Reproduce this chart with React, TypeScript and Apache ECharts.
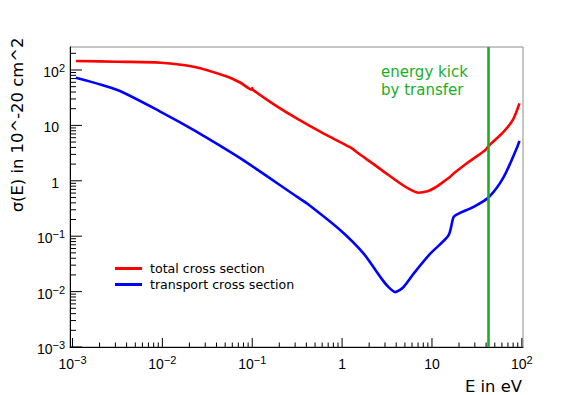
import React, { useEffect, useRef } from 'react';
import * as echarts from 'echarts';

// ---- data ----
const totalEnergy = [0.00109, 0.00316, 0.00957, 0.0223, 0.0532, 0.0741, 0.099, 0.1, 0.101, 0.174, 0.316, 0.625, 1.236, 1.596, 2.24, 2.88, 4.45, 5.62, 7.08, 8.91, 10.4, 12.6, 15.96, 17.4, 25.1, 39.1, 42.5, 62.5, 79.4, 94.0];
const totalSigma = [145.6, 141, 135.5, 114.8, 75.7, 58.9, 44.5, 47.0, 44.2, 24.0, 13.2, 7.1, 4.0, 2.95, 2.0, 1.48, 0.893, 0.708, 0.61, 0.646, 0.726, 0.891, 1.178, 1.355, 2.14, 3.57, 4.23, 7.66, 12.6, 25.0];

const transportEnergy = [0.00109, 0.00316, 0.00957, 0.0224, 0.0741, 0.316, 0.408, 0.957, 1.738, 2.667, 3.16, 3.91, 4.83, 6.25, 9.57, 15.3, 17.4, 19.8, 29.0, 42.6, 62.5, 87.9, 94.0];
const transportSigma = [72.6, 43.5, 17.6, 8.22, 2.53, 0.512, 0.389, 0.128, 0.0484, 0.01828, 0.0129, 0.0098, 0.0121, 0.0211, 0.0484, 0.1038, 0.222, 0.256, 0.338, 0.499, 1.15, 3.9, 5.26];

const kickEnergy = 42.5;

const seriesNames = ['total cross section', 'transport cross section'];
const annotationText = 'energy kick\nby transfer';
const xTitle = 'E in eV';
const yTitle = 'σ(E) in 10^-20 cm^2';

const xTickDecades = [0.001, 0.01, 0.1, 1, 10, 100];
const xTickLabels = ['10^{-3}', '10^{-2}', '10^{-1}', '1', '10', '10^{2}'];
const yTickDecades = [0.001, 0.01, 0.1, 1, 10, 100];
const yTickLabels = ['10^{-3}', '10^{-2}', '10^{-1}', '1', '10', '10^{2}'];
const minorSteps = [2, 3, 4, 5, 6, 7, 8, 9];

const X_MIN = 0.000938;
const X_MAX = 103;
const Y_MIN = 0.001;
const Y_MAX = 260;

const RED = '#ff0000';
const BLUE = '#0000ff';
const GREEN = '#1aae26';

const BASE_SIZE = 14;
const SUP_SIZE = 11;
const LABEL_FONT = 'Liberation Sans';

function splitLabel(label: string): [string, string] {
  const m = label.match(/^(.*)\^\{(.*)\}$/);
  if (!m) return [label, ''];
  return [m[1], m[2].replace('-', '\u2212')];
}

function textWidth(s: string, size: number): number {
  let w = 0;
  for (const ch of s) w += ch === '\u2212' ? 0.584 : 0.556;
  return w * size;
}

function labelGroup(label: string, anchorX: number, yc: number, mode: 'center' | 'right') {
  const [base, exp] = splitLabel(label);
  const bw = textWidth(base, BASE_SIZE);
  const sw = exp ? textWidth(exp, SUP_SIZE) : 0;
  const left = mode === 'center' ? anchorX - (bw + sw) / 2 : anchorX - bw - sw;
  const children: any[] = [
    {
      type: 'text', x: left, y: yc,
      style: { text: base, fontFamily: LABEL_FONT, fontSize: BASE_SIZE, fill: '#000', align: 'left', verticalAlign: 'middle' },
    },
  ];
  if (exp) {
    children.push({
      type: 'text', x: left + bw, y: yc - 4,
      style: { text: exp, fontFamily: LABEL_FONT, fontSize: SUP_SIZE, fill: '#000', align: 'left', verticalAlign: 'middle' },
    });
  }
  return { type: 'group', children };
}

function buildTicks(decades: number[], lo: number, hi: number) {
  const out: number[][] = [];
  decades.forEach((d) => {
    if (d >= lo && d <= hi) out.push([d, 1]);
    minorSteps.forEach((k) => {
      const v = d * k;
      if (v >= lo && v <= hi) out.push([v, 0]);
    });
  });
  return out;
}

export default function App() {
  const ref = useRef<HTMLDivElement>(null);

  useEffect(() => {
    if (!ref.current) return;
    const chart = echarts.init(ref.current, undefined, { renderer: 'svg' });

    const xTicks = buildTicks(xTickDecades, X_MIN, X_MAX);
    const yTicks = buildTicks(yTickDecades, Y_MIN, Y_MAX);

    const option: any = {
      animation: false,
      backgroundColor: '#ffffff',
      grid: {
        left: 70, top: 47, width: 453, height: 300,
        show: true, borderColor: '#8c8c8c', borderWidth: 1, backgroundColor: 'transparent',
      },
      xAxis: {
        type: 'log', logBase: 10, min: X_MIN, max: X_MAX,
        axisLine: { show: true, onZero: false, lineStyle: { color: '#000', width: 1 } },
        axisTick: { show: false }, axisLabel: { show: false }, splitLine: { show: false },
      },
      yAxis: {
        type: 'log', logBase: 10, min: Y_MIN, max: Y_MAX,
        axisLine: { show: true, onZero: false, lineStyle: { color: '#000', width: 1 } },
        axisTick: { show: false }, axisLabel: { show: false }, splitLine: { show: false },
      },
      legend: {
        data: seriesNames,
        orient: 'vertical', left: 110, top: 257,
        icon: 'rect', itemWidth: 27, itemHeight: 3, itemGap: 3,
        textStyle: { fontFamily: 'DejaVu Sans', fontSize: 12.6, color: '#000', lineHeight: 13, padding: [0, 0, 0, 3] },
        selectedMode: false,
      },
      graphic: [
        {
          type: 'text', x: 17, y: 125, rotation: Math.PI / 2,
          style: { text: yTitle, fontFamily: 'DejaVu Sans', fontSize: 16.4, fill: '#000', align: 'center', verticalAlign: 'middle' },
        },
        {
          type: 'text', x: 522, y: 386,
          style: { text: xTitle, fontFamily: 'DejaVu Sans', fontSize: 16.4, fill: '#000', align: 'right', verticalAlign: 'middle' },
        },
        {
          type: 'text', x: 381, y: 63,
          style: { text: annotationText, fontFamily: 'DejaVu Sans', fontSize: 15, lineHeight: 18, fill: GREEN, align: 'left', verticalAlign: 'top' },
        },
      ],
      series: [
        {
          name: seriesNames[0], type: 'line', color: RED,
          data: totalEnergy.map((e, i) => [e, totalSigma[i]]),
          showSymbol: false, smooth: 0.3,
          lineStyle: { color: RED, width: 2.6 },
          emphasis: { disabled: true }, z: 3,
        },
        {
          name: seriesNames[1], type: 'line', color: BLUE,
          data: transportEnergy.map((e, i) => [e, transportSigma[i]]),
          showSymbol: false, smooth: 0.25,
          lineStyle: { color: BLUE, width: 2.6 },
          emphasis: { disabled: true }, z: 3,
          markLine: {
            silent: true, symbol: ['none', 'none'], label: { show: false },
            lineStyle: { color: GREEN, width: 2.6, type: 'solid' },
            data: [{ xAxis: kickEnergy }],
            z: 5,
          },
        },
        {
          type: 'custom', silent: true, clip: false, z: 4,
          data: xTicks.map((t) => [t[0], 1, t[1]]),
          renderItem: (params: any, api: any) => {
            const x = api.coord([api.value(0), 1])[0];
            const cs = params.coordSys;
            const yb = cs.y + cs.height;
            const len = api.value(2) ? 9 : 4.5;
            return { type: 'line', shape: { x1: x, y1: yb, x2: x, y2: yb - len }, style: { stroke: '#000', lineWidth: 1 } };
          },
        },
        {
          type: 'custom', silent: true, clip: false, z: 4,
          data: yTicks.map((t) => [1, t[0], t[1]]),
          renderItem: (params: any, api: any) => {
            const y = api.coord([1, api.value(1)])[1];
            const cs = params.coordSys;
            const len = api.value(2) ? 12 : 6;
            return { type: 'line', shape: { x1: cs.x, y1: y, x2: cs.x + len, y2: y }, style: { stroke: '#000', lineWidth: 1 } };
          },
        },
        {
          type: 'custom', silent: true, clip: false, z: 4,
          data: xTickDecades.map((d, i) => [d, 1, i]),
          renderItem: (params: any, api: any) => {
            const x = api.coord([api.value(0), 1])[0];
            const cs = params.coordSys;
            return labelGroup(xTickLabels[api.value(2)], x, cs.y + cs.height + 17, 'center');
          },
        },
        {
          type: 'custom', silent: true, clip: false, z: 4,
          data: yTickDecades.map((d, i) => [1, d, i]),
          renderItem: (params: any, api: any) => {
            const y = api.coord([1, api.value(1)])[1];
            const cs = params.coordSys;
            const label = yTickLabels[api.value(2)];
            const hasExp = label.indexOf('^') >= 0;
            return labelGroup(label, cs.x - (hasExp ? 5 : 11), y + 2, 'right');
          },
        },
      ],
    };

    chart.setOption(option);
    return () => chart.dispose();
  }, []);

  return <div ref={ref} style={{ position: 'fixed', left: 0, top: 0, width: 581, height: 395 }} />;
}
